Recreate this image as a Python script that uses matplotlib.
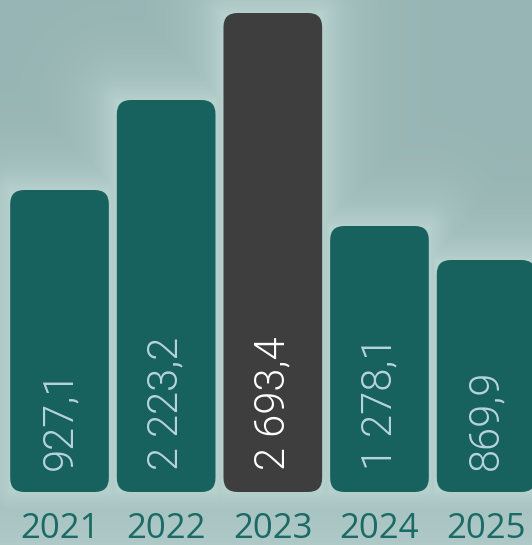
import numpy as np
import matplotlib
matplotlib.use("Agg")
import matplotlib.pyplot as plt
from matplotlib.patches import FancyBboxPatch

# data
years = ["2021", "2022", "2023", "2024", "2025"]
value_labels = ["927,1", "2 223,2", "2 693,4", "1 278,1", "869,9"]
bar_heights = [302, 392, 479, 266, 232]   # drawn heights (px units)
highlight = "2023"

bg_color = np.array([151, 181, 180]) / 255
glow_color = np.array([182, 208, 205]) / 255
bar_color = "#17625f"
hi_color = "#3e3e3e"
label_color = "#b7d3de"
year_color = "#1b6a66"

W, H = 532, 545
fig = plt.figure(figsize=(W / 100, H / 100), dpi=100)

step = 106.7  # px per category
xlim = (-0.558, 4.43)
ylim = (-53, 492)

# background with a soft glow around the bars
bg_ax = fig.add_axes([0, 0, 1, 1])
bg_ax.set_axis_off()
xs = np.linspace(xlim[0], xlim[1], W)
ys = np.linspace(ylim[0], ylim[1], H)
gx, gy = np.meshgrid(xs, ys)
dist = np.full(gx.shape, 1e9)
width = 0.925
for i, h in enumerate(bar_heights):
    dx = np.maximum(np.abs(gx - i) - width / 2, 0) * step
    dy = np.maximum(np.maximum(0 - gy, gy - h), 0)
    dist = np.minimum(dist, np.hypot(dx, dy))
glow = np.exp(-dist / 30.0)
# a lighter band at the bottom
glow = np.maximum(glow, 0.75 * np.clip(1 - (gy - ylim[0]) / 140, 0, 1))
img = bg_color[None, None, :] * (1 - glow[..., None]) + glow_color[None, None, :] * glow[..., None]
bg_ax.imshow(img, origin="lower", extent=[0, 1, 0, 1], aspect="auto")
bg_ax.set_xlim(0, 1)
bg_ax.set_ylim(0, 1)

ax = fig.add_axes([0, 0, 1, 1])
ax.patch.set_alpha(0)
ax.set_axis_off()
ax.set_xlim(*xlim)
ax.set_ylim(*ylim)

x = np.arange(len(years))
bars = ax.bar(x, bar_heights, width=width)
r = 14
for rect, yr in zip(bars, years):
    rect.set_visible(False)
    color = hi_color if yr == highlight else bar_color
    fb = FancyBboxPatch((rect.get_x(), rect.get_y()), rect.get_width(), rect.get_height(),
                        boxstyle=f"round,pad=0,rounding_size={r / step}",
                        mutation_aspect=step, facecolor=color, edgecolor="none")
    ax.add_patch(fb)

for i, (lab, yr) in enumerate(zip(value_labels, years)):
    c = "white" if yr == highlight else label_color
    ax.text(i, 22, lab, rotation=90, ha="center", va="bottom", color=c,
            fontsize=30, family="Roboto", fontweight=300)
    ax.text(i, -20, yr, ha="center", va="top", color=year_color,
            fontsize=25, family="Open Sans")

fig.savefig("out.png", dpi=100)
